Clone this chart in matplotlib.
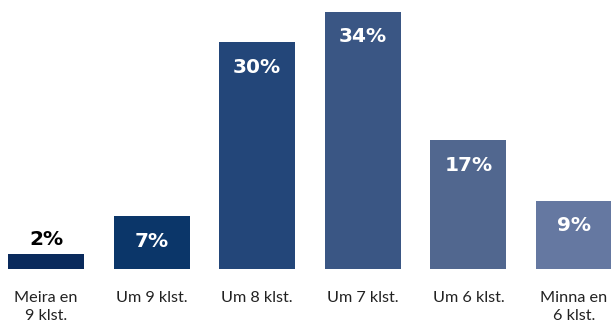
import matplotlib
matplotlib.use("Agg")
import matplotlib.pyplot as plt

categories = ["Meira en\n9 klst.", "Um 9 klst.", "Um 8 klst.", "Um 7 klst.", "Um 6 klst.", "Minna en\n6 klst."]
values = [2, 7, 30, 34, 17, 9]
colors = ["#0a2a5c", "#0b3669", "#234679", "#3a5684", "#51678f", "#6578a1"]
label_colors = ["black", "white", "white", "white", "white", "white"]

fig = plt.figure(figsize=(6.11, 3.23), dpi=100)
ax = fig.add_axes([0, (323 - 269) / 323, 1, 269 / 323])
x = list(range(len(values)))
bars = ax.bar(x, values, width=0.72, color=colors)
ax.set_xlim(-46 / 105.6, (611 - 46) / 105.6)
ax.set_ylim(0, 269 / 7.56)
for s in ax.spines.values():
    s.set_visible(False)
ax.set_yticks([])
ax.set_xticks(x)
ax.set_xticklabels(categories, fontsize=11.7, family="Lato", color="#222222", linespacing=1.38, va="top")
ax.tick_params(axis="x", length=0, pad=16)

for i, (v, c) in enumerate(zip(values, label_colors)):
    off = 14 if i == 0 else -25
    ax.annotate(f"{v}%", (i, v), xytext=(0, off), textcoords="offset pixels",
                ha="center", va="center", fontsize=14.5, fontweight="heavy",
                family="DejaVu Sans", color=c)

fig.savefig("out.png", dpi=100)
